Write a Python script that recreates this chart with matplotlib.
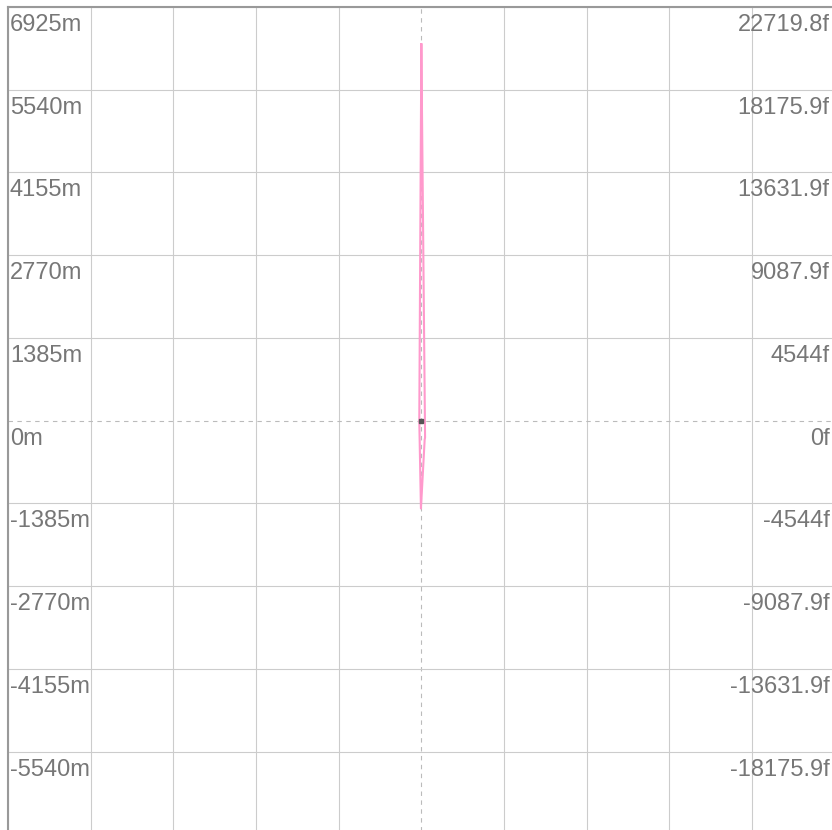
import matplotlib
matplotlib.use('Agg')
import matplotlib.pyplot as plt
import numpy as np

# altitude axis (metres on the left, feet on the right)
step_m = 1385
left_labels = ['6925m', '5540m', '4155m', '2770m', '1385m', '0m',
               '-1385m', '-2770m', '-4155m', '-5540m']
right_labels = ['22719.8f', '18175.9f', '13631.9f', '9087.9f', '4544f', '0f',
                '-4544f', '-9087.9f', '-13631.9f', '-18175.9f']
label_values = [6925, 5540, 4155, 2770, 1385, 0, -1385, -2770, -4155, -5540]

# profile trace (narrow spike around the centre)
trace_x = [0.0, 0.045, 0.04, -0.005, -0.025, 0.0]
trace_y = [6300, -280, -320, -1470, 0, 6300]

# current position marker
pos_x = [0.0]
pos_y = [0.0]

fig = plt.figure(figsize=(8.32, 8.30), dpi=100)
W, H = 832, 830
ax = fig.add_axes([8 / W, -4.4 / H, 826.7 / W, 827.4 / H])
ax.set_xlim(-5, 5)
ax.set_ylim(-6925, 6925)

for x in range(-5, 6):
    if x == 0:
        ax.axvline(x, color='#bbbbbb', lw=0.8, ls=(0, (4, 4)), zorder=1)
    else:
        ax.axvline(x, color='#cccccc', lw=0.8, zorder=1)
for k in range(-5, 6):
    y = k * step_m
    if k == 0:
        ax.axhline(y, color='#bbbbbb', lw=0.8, ls=(0, (4, 4)), zorder=1)
    else:
        ax.axhline(y, color='#cccccc', lw=0.8, zorder=1)

ax.plot(trace_x, trace_y, color='#ff99cc', lw=1.5, zorder=3)
ax.plot(pos_x, pos_y, marker='s', ms=2.5, color='#555555', ls='none', zorder=4)

for lab, v in zip(left_labels, label_values):
    ax.annotate(lab, xy=(0, v), xycoords=('axes fraction', 'data'),
                xytext=(2, -7), textcoords='offset pixels',
                ha='left', va='top', fontsize=17, color='#777777',
                family='Liberation Sans')
for lab, v in zip(right_labels, label_values):
    ax.annotate(lab, xy=(1, v), xycoords=('axes fraction', 'data'),
                xytext=(-5, -7), textcoords='offset pixels',
                ha='right', va='top', fontsize=17, color='#777777',
                family='Liberation Sans')

ax.set_xticks([])
ax.set_yticks([])
for side in ['right', 'bottom']:
    ax.spines[side].set_visible(False)
for side in ['left', 'top']:
    ax.spines[side].set_color('#999999')
    ax.spines[side].set_linewidth(1.5)

fig.savefig('out.png', dpi=100)
